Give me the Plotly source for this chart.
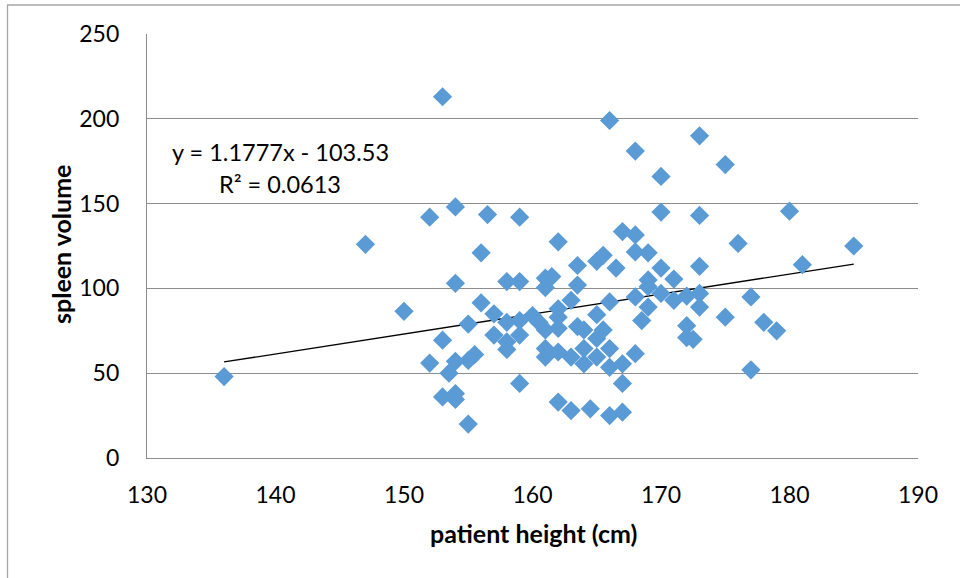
import plotly.graph_objects as go

# patient height (cm)
height = [136, 147, 150, 152, 153, 154, 154, 153, 152, 154, 153.5, 153, 154, 154, 155, 155, 155, 155.5,
          156, 156, 156.5, 159, 157, 157, 158, 158, 159, 158, 158, 159, 160, 159, 159, 160.5, 161, 161.5,
          161, 161, 161, 161, 162, 162, 162, 162, 162, 162, 163, 163, 163, 163.5, 163.5, 163.5, 164, 164,
          164, 164.5, 165, 165.5, 165, 165, 165, 165.5, 166, 166, 166, 166, 166.5, 166, 167, 167, 167, 167,
          168, 168, 168, 168, 168.5, 168, 169, 169, 169, 169, 170, 170, 170, 170, 171, 171, 172, 172, 172,
          172.5, 173, 173, 173, 173, 173, 175, 175, 176, 177, 177, 178, 179, 180, 181, 185]
# spleen volume
volume = [48, 126, 86.5, 142, 213, 148, 103, 69.5, 56, 57, 50, 36, 38, 34.5, 20, 79, 57.5, 61,
          91.5, 121, 143.5, 142, 85, 72.5, 80, 104, 104, 68.5, 64, 81, 84, 72.5, 44, 80, 106, 107,
          100.5, 75.5, 64.5, 59.5, 127.5, 88, 83, 76.5, 62.5, 33, 93, 59.5, 28, 113.5, 102, 77.5, 75.5, 64.5,
          55.5, 29, 116, 119.5, 84.5, 70.5, 59.5, 75.5, 92, 64.5, 53.5, 25, 112, 199, 133.5, 55.5, 44, 27,
          131.5, 121.5, 95, 61.5, 81, 181, 121, 105, 101, 89, 166, 145, 112, 97, 105.5, 93, 95.5, 78, 71,
          70, 190, 143, 113, 97, 89, 173, 83, 126.5, 95, 52, 80, 75, 145.5, 114, 125]

# linear trendline as printed on the chart
slope = 1.1777
intercept = -103.53
trend_x = [min(height), max(height)]
trend_y = [slope * x + intercept for x in trend_x]

x_ticks = [130, 140, 150, 160, 170, 180, 190]
y_ticks = [0, 50, 100, 150, 200, 250]

FONT = "Lato"
GRID = "#8c8c8c"

fig = go.Figure()
fig.add_trace(go.Scatter(
    x=trend_x, y=trend_y, mode="lines",
    line=dict(color="black", width=1.3), hoverinfo="skip", showlegend=False))
fig.add_trace(go.Scatter(
    x=height, y=volume, mode="markers",
    marker=dict(symbol="diamond", size=14.8, color="#5B9BD5", line=dict(width=0)),
    showlegend=False))

fig.add_annotation(x=140.37, y=180.3, xref="x", yref="y", text="y = 1.1777x - 103.53",
                   showarrow=False, xanchor="center", yanchor="middle",
                   font=dict(family=FONT, size=23.5, color="black"))
fig.add_annotation(x=140.37, y=161.5, xref="x", yref="y", text="R² = 0.0613",
                   showarrow=False, xanchor="center", yanchor="middle",
                   font=dict(family=FONT, size=23.5, color="black"))

# axis titles
fig.add_annotation(x=(533 - 147) / 771, y=(458 - 533) / 424, xref="paper", yref="paper",
                   text="<b>patient height (cm)</b>", showarrow=False,
                   xanchor="center", yanchor="middle",
                   font=dict(family=FONT, size=25, color="black"))
fig.add_annotation(x=(61 - 147) / 771, y=(458 - 245) / 424, xref="paper", yref="paper",
                   text="<b>spleen volume</b>", showarrow=False, textangle=-90,
                   xanchor="center", yanchor="middle",
                   font=dict(family=FONT, size=25, color="black"))

# outer chart border
fig.add_shape(type="rect", xref="paper", yref="paper",
              x0=(7.5 - 147) / 771, x1=(970 - 147) / 771,
              y0=(458 - 590) / 424, y1=(458 - 5) / 424,
              line=dict(color="#a6a6a6", width=1.3), fillcolor="rgba(0,0,0,0)", layer="below")

fig.update_layout(
    width=960, height=578,
    margin=dict(l=147, r=42, t=34, b=120),
    paper_bgcolor="white", plot_bgcolor="white",
    font=dict(family=FONT, size=23, color="black"),
    xaxis=dict(range=[130, 190], tickvals=x_ticks, showgrid=False, zeroline=False,
               showline=True, linecolor=GRID, linewidth=1.2, ticks="", ticklabelstandoff=16),
    yaxis=dict(range=[0, 250], tickvals=y_ticks, showgrid=True, gridcolor=GRID, gridwidth=1.2,
               zeroline=False, showline=True, linecolor=GRID, linewidth=1.2, ticks="",
               ticklabelstandoff=22),
)

fig.write_html("out.html")
